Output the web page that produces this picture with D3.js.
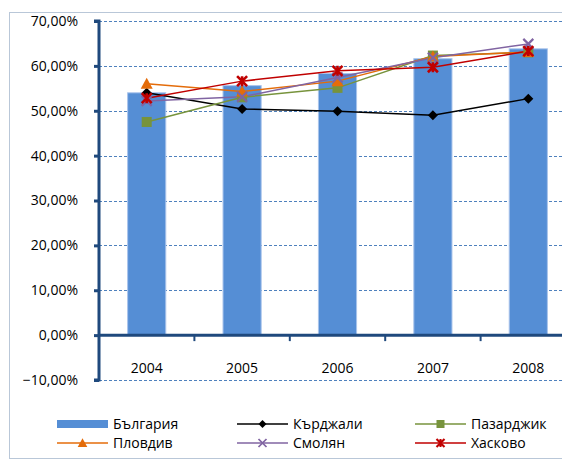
<!DOCTYPE html>
<html>
<head>
<meta charset="utf-8">
<script src="https://cdn.jsdelivr.net/npm/d3@7"></script>
<style>
  body { margin: 0; background: #fff; }
  svg text { font-family: "Open Sans", "Liberation Sans", sans-serif; fill: #000; }
</style>
</head>
<body>
<div id="chart"></div>
<script>
// values (share, %)
const years = ["2004", "2005", "2006", "2007", "2008"];
const bulgaria = [54.0, 55.6, 58.3, 61.6, 63.8];
const kardzhali = [54.0, 50.4, 49.9, 49.0, 52.7];
const pazardzhik = [47.5, 53.0, 55.1, 62.3, 63.0];
const plovdiv = [56.0, 54.3, 56.6, 62.1, 63.1];
const smolyan = [52.2, 53.1, 57.4, 61.8, 64.9];
const haskovo = [52.8, 56.6, 58.9, 59.7, 63.3];
const yTicks = [-10, 0, 10, 20, 30, 40, 50, 60, 70];

const lineSeries = [
  {name: "Кърджали", values: kardzhali, color: "#000000", marker: "diamond"},
  {name: "Пазарджик", values: pazardzhik, color: "#77933c", marker: "square"},
  {name: "Пловдив", values: plovdiv, color: "#e46c0a", marker: "triangle"},
  {name: "Смолян", values: smolyan, color: "#8064a2", marker: "x"},
  {name: "Хасково", values: haskovo, color: "#c00000", marker: "star"}
];

const W = 562, H = 460;
const margin = {top: 21, left: 99};
const plotW = 477, plotH = 359;

const svg = d3.select("#chart").append("svg")
    .attr("width", W)
    .attr("height", H);

// outer chart frame
svg.append("rect")
    .attr("x", 9.5).attr("y", 12.5)
    .attr("width", 600).attr("height", 446)
    .attr("fill", "none")
    .attr("stroke", "#b9c7d8");

const g = svg.append("g")
    .attr("transform", "translate(" + margin.left + "," + margin.top + ")");

const x = d3.scaleBand()
    .domain(years)
    .range([0, plotW])
    .paddingInner(0.6)
    .paddingOuter(0.3);

const y = d3.scaleLinear()
    .domain([-10, 70])
    .range([plotH, 0]);

// grid lines
g.selectAll(".grid")
    .data(yTicks.filter(d => d !== 0))
    .enter().append("line")
    .attr("x1", 0).attr("x2", plotW + 20)
    .attr("y1", d => Math.round(y(d)) + 0.5)
    .attr("y2", d => Math.round(y(d)) + 0.5)
    .attr("stroke", "#4f81bd")
    .attr("stroke-width", 1)
    .attr("stroke-dasharray", "3,2");

// bars
g.selectAll(".bar")
    .data(bulgaria)
    .enter().append("rect")
    .attr("x", (d, i) => x(years[i]))
    .attr("width", x.bandwidth())
    .attr("y", d => y(d))
    .attr("height", d => y(0) - y(d))
    .attr("fill", "#558ed5")
    .attr("stroke", "#a9c4eb")
    .attr("stroke-width", 1);

// y axis
const yAxis = d3.axisLeft(y)
    .tickValues(yTicks)
    .tickSize(5)
    .tickFormat(d => d3.format(".2f")(d).replace(".", ",") + "%");

const ya = g.append("g").call(yAxis);
ya.select(".domain").attr("stroke", "#1f497d").attr("stroke-width", 3)
    .attr("d", "M-5," + y(70) + "H0V" + y(-10) + "H-5");
ya.selectAll(".tick line").attr("stroke", "#1f497d").attr("stroke-width", 3);
ya.selectAll(".tick text").attr("x", -21).attr("font-size", 14)
    .attr("font-family", "Open Sans");

// x axis at zero
const xa = g.append("g").attr("transform", "translate(0," + y(0) + ")");
xa.append("line")
    .attr("x1", 0).attr("x2", plotW + 20)
    .attr("stroke", "#1f497d").attr("stroke-width", 3);
const step = x.step();
xa.selectAll(".xtick")
    .data(d3.range(1, years.length + 1))
    .enter().append("line")
    .attr("x1", d => d * step).attr("x2", d => d * step)
    .attr("y1", 0).attr("y2", 6)
    .attr("stroke", "#1f497d").attr("stroke-width", 2);
xa.selectAll(".xlabel")
    .data(years)
    .enter().append("text")
    .attr("x", d => x(d) + x.bandwidth() / 2)
    .attr("y", 37.5)
    .attr("text-anchor", "middle")
    .attr("font-size", 14)
    .text(d => d);

// marker shapes
function drawMarker(sel, type, color) {
  if (type === "diamond") {
    sel.append("path").attr("d", "M0,-5L5,0L0,5L-5,0Z").attr("fill", color);
  } else if (type === "square") {
    sel.append("rect").attr("x", -5).attr("y", -5).attr("width", 10).attr("height", 10)
        .attr("fill", color);
  } else if (type === "triangle") {
    sel.append("path").attr("d", "M0,-6L6,5L-6,5Z").attr("fill", color);
  } else if (type === "x") {
    sel.append("path").attr("d", "M-5,-5L5,5M5,-5L-5,5")
        .attr("stroke", color).attr("stroke-width", 2.2).attr("fill", "none");
  } else if (type === "star") {
    sel.append("path").attr("d", "M-5,-5L5,5M5,-5L-5,5M0,-5V5")
        .attr("stroke", color).attr("stroke-width", 2.6).attr("fill", "none");
  }
}

const line = d3.line()
    .x((d, i) => x(years[i]) + x.bandwidth() / 2)
    .y(d => y(d));

lineSeries.forEach(s => {
  g.append("path")
      .datum(s.values)
      .attr("fill", "none")
      .attr("stroke", s.color)
      .attr("stroke-width", 1.5)
      .attr("d", line);
});
lineSeries.forEach(s => {
  s.values.forEach((v, i) => {
    const m = g.append("g")
        .attr("transform", "translate(" + (x(years[i]) + x.bandwidth() / 2) + "," + y(v) + ")");
    drawMarker(m, s.marker, s.color);
  });
});

// legend
const legendItems = [{name: "България", color: "#558ed5", marker: "bar"}].concat(lineSeries);
const colX = [57, 237, 415];
const rowY = [424, 443];
legendItems.forEach((it, i) => {
  const lg = svg.append("g")
      .attr("transform", "translate(" + colX[i % 3] + "," + rowY[Math.floor(i / 3)] + ")");
  if (it.marker === "bar") {
    lg.append("rect").attr("x", 0).attr("y", -4).attr("width", 51).attr("height", 8)
        .attr("fill", it.color);
  } else {
    lg.append("line").attr("x1", 0).attr("x2", 51)
        .attr("stroke", it.color).attr("stroke-width", 1.5);
    const mk = lg.append("g").attr("transform", "translate(25.5,0) scale(0.8)");
    drawMarker(mk, it.marker, it.color);
  }
  lg.append("text")
      .attr("x", 56).attr("y", 5)
      .attr("font-size", 14)
      .text(it.name);
});
</script>
</body>
</html>
